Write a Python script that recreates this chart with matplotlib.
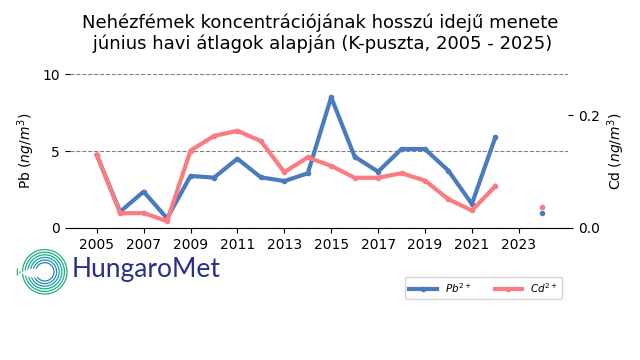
import numpy as np
import matplotlib
matplotlib.use("Agg")
import matplotlib.pyplot as plt
from matplotlib.patches import Arc

years = list(range(2005, 2025))
pb = [4.74, 1.06, 2.36, 0.63, 3.38, 3.27, 4.50, 3.29, 3.05, 3.55,
      8.49, 4.63, 3.66, 5.13, 5.13, 3.72, 1.56, 5.89, np.nan, 0.95]
cd = [0.130, 0.026, 0.0265, 0.012, 0.137, 0.163, 0.172, 0.154, 0.099, 0.125,
      0.110, 0.089, 0.089, 0.097, 0.084, 0.051, 0.031, 0.074, np.nan, 0.037]
xticks = list(range(2005, 2025, 2))

blue = "#4a7bbd"
red = "#fc7b80"

fig = plt.figure(figsize=(6.4, 3.6), dpi=100)
ax = fig.add_axes([0.109, 0.3667, 0.7785, 0.4277])
ax.plot(years, pb, color=blue, lw=3, marker="o", ms=3, label="$Pb^{2+}$")
ax.set_ylim(0, 10)
ax.set_xlim(2003.85, 2025.1)
ax.set_yticks([0, 5, 10])
ax.set_xticks(xticks)
ax.grid(axis="y", linestyle="--", color="gray", lw=0.8)
ax.set_axisbelow(True)
for s in ["top", "right", "left"]:
    ax.spines[s].set_visible(False)
ax.set_ylabel("Pb ($ng/m^3$)")
ax.tick_params(labelsize=10)

ax2 = ax.twinx()
ax2.plot(years, cd, color=red, lw=3, marker="o", ms=3, label="$Cd^{2+}$")
ax2.set_ylim(0, 0.2726)
ax2.set_yticks([0.0, 0.2])
ax2.set_yticklabels(["0.0", "0.2"])
for s in ["top", "right", "left", "bottom"]:
    ax2.spines[s].set_visible(False)
ax2.set_ylabel("Cd ($ng/m^3$)")
ax2.tick_params(labelsize=10)

fig.suptitle("Nehézfémek koncentrációjának hosszú idejű menete\n június havi átlagok alapján (K-puszta, 2005 - 2025)",
             fontsize=13, y=0.963)

h1, l1 = ax.get_legend_handles_labels()
h2, l2 = ax2.get_legend_handles_labels()
fig.legend(h1 + h2, l1 + l2, ncol=2, fontsize=7.5, loc="center",
           bbox_to_anchor=(0.756, 0.2), frameon=True, handlelength=2.6,
           columnspacing=2.2)

# logo
lax = fig.add_axes([0.025, 0.165, 0.09, 0.16])
lax.set_xlim(-1.1, 1.1)
lax.set_ylim(-1.1, 1.1)
lax.set_aspect("equal")
lax.axis("off")
cols = ["#2a7fb8", "#1f8fb0", "#1a9aa5", "#18a698", "#1cae86", "#22b374", "#2bb566", "#35b85a"]
for i, r in enumerate(np.linspace(0.35, 1.05, 8)):
    lax.add_patch(Arc((0, 0), 2 * r, 2 * r, theta1=215 - i * 6, theta2=160 + i * 4,
                      color=cols[i], lw=0.9))
fig.text(0.112, 0.25, "HungaroMet", fontsize=19, color="#2b2f87",
         family="Lato", va="center")

fig.savefig("out.png", dpi=100)
